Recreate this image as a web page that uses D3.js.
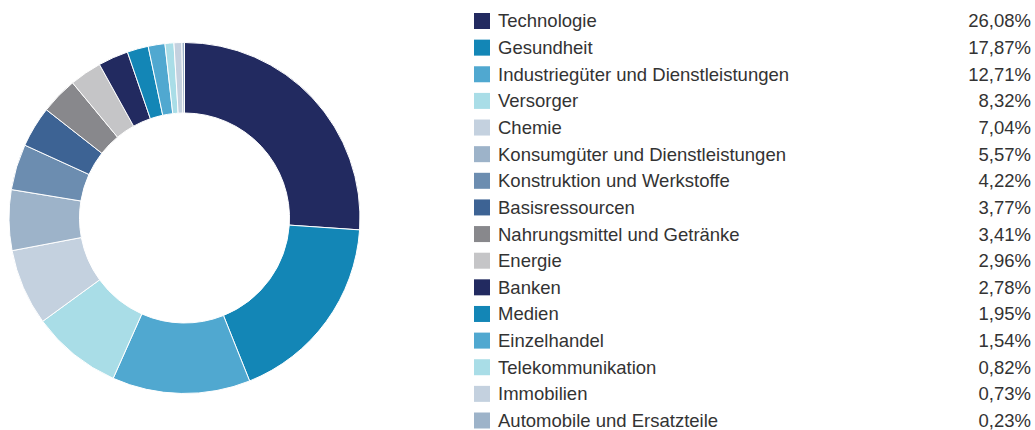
<!DOCTYPE html>
<html>
<head>
<meta charset="utf-8">
<script src="https://cdn.jsdelivr.net/npm/d3@7"></script>
<style>
body{margin:0;background:#fff}
svg{display:block}
text{font-family:"Liberation Sans",Arial,sans-serif}
</style>
</head>
<body>
<svg id="chart" width="1035" height="430"></svg>
<script>
// sectors + weights (%)
var sectors = ["Technologie","Gesundheit","Industriegüter und Dienstleistungen","Versorger","Chemie","Konsumgüter und Dienstleistungen","Konstruktion und Werkstoffe","Basisressourcen","Nahrungsmittel und Getränke","Energie","Banken","Medien","Einzelhandel","Telekommunikation","Immobilien","Automobile und Ersatzteile"]
var weights = [26.08,17.87,12.71,8.32,7.04,5.57,4.22,3.77,3.41,2.96,2.78,1.95,1.54,0.82,0.73,0.23]
var palette = ["#222a60","#1386b6","#50a8d0","#a9dde7","#c4d1df","#9db3c9","#6c8db0","#3d6394","#88888c","#c5c5c7"]

var data = sectors.map((s,i) => ({name:s, value:weights[i]}))
var svg = d3.select("#chart")
var color = d3.scaleOrdinal().domain(sectors).range(palette)
var fmt = v => d3.format(".2f")(v).replace(".", ",") + "%"

// donut
var cx = 184.5, cy = 218, outerR = 175.5, innerR = 105
var pie = d3.pie().value(d => d.value).sort(null)
var arc = d3.arc().innerRadius(innerR).outerRadius(outerR)
svg.append("g").attr("transform","translate("+cx+","+cy+")")
    .selectAll("path").data(pie(data)).join("path")
    .attr("d", arc).attr("fill", d => color(d.data.name))
    .attr("stroke","#fff").attr("stroke-width",1)

// legend
var y = d3.scalePoint().domain(sectors).range([21, 420.5])
var legend = svg.append("g")
var row = legend.selectAll("g").data(data).join("g").attr("transform", d => "translate(0,"+y(d.name)+")")
row.append("rect").attr("x",474).attr("y",-8).attr("width",16).attr("height",16).attr("fill", d => color(d.name))
row.append("text").attr("x",498).attr("dy","0.35em").attr("font-size",18.5).attr("fill","#333").text(d => d.name)
row.append("text").attr("x",1031).attr("dy","0.35em").attr("text-anchor","end").attr("font-size",18.5).attr("fill","#333").text(d => fmt(d.value))
</script>
</body>
</html>
